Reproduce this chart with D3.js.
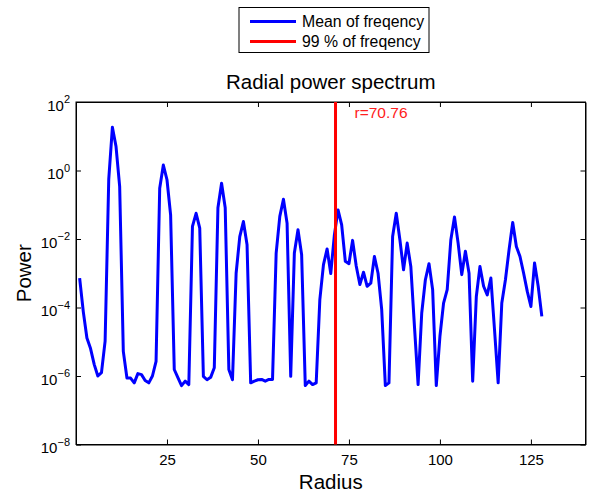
<!DOCTYPE html>
<html>
<head>
<meta charset="utf-8">
<style>
  body { margin: 0; background: #fff; }
  svg { display: block; font-family: "Liberation Sans", Arial, Helvetica, sans-serif; }
  .axis path { stroke: #000; }
  .axis line { stroke: #000; }
  .axis text { fill: #000; }
</style>
</head>
<body>
<script src="https://d3js.org/d3.v7.min.js"></script>
<script>
const width = 589;
const height = 494;
const margin = {top: 102, right: 2, bottom: 49.5, left: 76};

// radius 1..128, log10 of mean power
const radius = d3.range(1, 129);
const logPower = [
  -3.14, -4.12, -4.89, -5.2, -5.66, -6.0, -5.9, -4.98, -0.25, 1.26,
  0.70, -0.47, -5.28, -6.06, -6.06, -6.2, -5.93, -5.96, -6.13, -6.2,
  -6.0, -5.57, -0.52, 0.16, -0.27, -1.3, -5.81, -6.05, -6.28, -6.15,
  -6.25, -1.63, -1.25, -1.68, -6.01, -6.11, -6.04, -5.76, -1.09, -0.37,
  -1.09, -5.81, -6.11, -3.0, -1.93, -1.49, -2.17, -6.2, -6.15, -6.11,
  -6.1, -6.15, -6.1, -6.1, -2.41, -1.34, -0.84, -1.54, -6.01, -2.41,
  -1.73, -2.46, -6.28, -6.15, -6.25, -6.2, -3.77, -2.75, -2.29, -3.01,
  -1.88, -1.15, -1.59, -2.65, -2.72, -2.04, -2.79, -3.33, -2.97, -3.38,
  -3.29, -2.51, -3.0, -4.06, -6.28, -6.2, -1.93, -1.25, -2.02, -2.9,
  -2.12, -2.8, -4.55, -6.25, -4.16, -3.19, -2.72, -3.48, -6.28, -4.84,
  -3.87, -3.48, -2.02, -1.36, -2.12, -3.04, -2.36, -3.0, -6.15, -3.68,
  -2.8, -3.38, -3.63, -3.14, -4.65, -6.2, -3.87, -3.19, -2.31, -1.52,
  -2.22, -2.51, -3.0, -3.53, -3.97, -2.7, -3.38, -4.26
];
const rCut = 70.76;
const xTicks = [25, 50, 75, 100, 125];
const yExps = [-8, -6, -4, -2, 0, 2];
const legendLabels = ["Mean of freqency", "99 % of freqency"];
const legendColors = ["#0000ff", "#ff0000"];

const data = radius.map((r, i) => ({r: r, p: Math.pow(10, logPower[i])}));

const svg = d3.select("body").append("svg")
    .attr("width", width).attr("height", height);

const x = d3.scaleLinear().domain([0, 140]).range([margin.left, width - margin.right - 1.5]);
const y = d3.scaleLog().domain([1e-8, 1e2]).range([height - margin.bottom, margin.top]);

// axes with inward ticks
const gx = svg.append("g").attr("class", "axis")
    .attr("transform", `translate(0,${y(1e-8)})`)
    .call(d3.axisBottom(x).tickValues(xTicks).tickSizeInner(-5).tickSizeOuter(0).tickPadding(10));
gx.selectAll("text").attr("font-size", 15).attr("font-family", null);

svg.append("g").attr("class", "axis")
    .attr("transform", `translate(0,${y(1e2)})`)
    .call(d3.axisTop(x).tickValues(xTicks).tickSizeInner(-5).tickSizeOuter(0).tickFormat(""));

const gy = svg.append("g").attr("class", "axis")
    .attr("transform", `translate(${x(0)},0)`)
    .call(d3.axisLeft(y).tickValues(yExps.map(e => Math.pow(10, e)))
        .tickSizeInner(-5).tickSizeOuter(0).tickPadding(14).tickFormat(""));
gy.selectAll(".tick text").each(function(d) {
    const e = Math.round(Math.log10(d));
    const t = d3.select(this).attr("font-size", 15).attr("font-family", null).attr("dy", "0.55em");
    t.append("tspan").text("10");
    t.append("tspan").attr("dy", "-0.7em").attr("font-size", 11)
        .text(e < 0 ? "\u2212" + (-e) : String(e));
});
gy.selectAll(".tick text").attr("x", -6);

svg.append("g").attr("class", "axis")
    .attr("transform", `translate(${x(140)},0)`)
    .call(d3.axisRight(y).tickValues(yExps.map(e => Math.pow(10, e)))
        .tickSizeInner(-5).tickSizeOuter(0).tickFormat(""));

// box
svg.append("rect")
    .attr("x", x(0)).attr("y", y(1e2))
    .attr("width", x(140) - x(0)).attr("height", y(1e-8) - y(1e2))
    .attr("fill", "none").attr("stroke", "#000").attr("stroke-width", 1);

// series
const line = d3.line().x(d => x(d.r)).y(d => y(d.p));
svg.append("path").datum(data)
    .attr("d", line)
    .attr("fill", "none")
    .attr("stroke", legendColors[0])
    .attr("stroke-width", 3)
    .attr("stroke-linejoin", "round");

svg.append("line")
    .attr("x1", x(rCut) + 2).attr("x2", x(rCut) + 2)
    .attr("y1", y(1e2)).attr("y2", y(1e-8))
    .attr("stroke", legendColors[1]).attr("stroke-width", 3);

svg.append("text")
    .attr("x", x(rCut) + 21).attr("y", y(1e2) + 16)
    .attr("font-size", 15.5).attr("fill", "#ff2020")
    .text("r=" + rCut.toFixed(2));

// titles
svg.append("text")
    .attr("x", (x(0) + x(140)) / 2).attr("y", 89)
    .attr("text-anchor", "middle").attr("font-size", 20.5)
    .text("Radial power spectrum");

svg.append("text")
    .attr("x", (x(0) + x(140)) / 2).attr("y", 489)
    .attr("text-anchor", "middle").attr("font-size", 20.5)
    .text("Radius");

svg.append("text")
    .attr("transform", `translate(31,${(y(1e2) + y(1e-8)) / 2}) rotate(-90)`)
    .attr("text-anchor", "middle").attr("font-size", 20.5)
    .text("Power");

// legend
const lg = svg.append("g").attr("transform", "translate(239,7.5)");
lg.append("rect").attr("width", 190).attr("height", 45)
    .attr("fill", "#fff").attr("stroke", "#000").attr("stroke-width", 1);
legendLabels.forEach((lab, i) => {
    lg.append("line")
        .attr("x1", 11).attr("x2", 57)
        .attr("y1", 14 + i * 20).attr("y2", 14 + i * 20)
        .attr("stroke", legendColors[i]).attr("stroke-width", 3);
    lg.append("text")
        .attr("x", 63).attr("y", 19.5 + i * 20)
        .attr("font-size", 15.8)
        .text(lab);
});
</script>
</body>
</html>
